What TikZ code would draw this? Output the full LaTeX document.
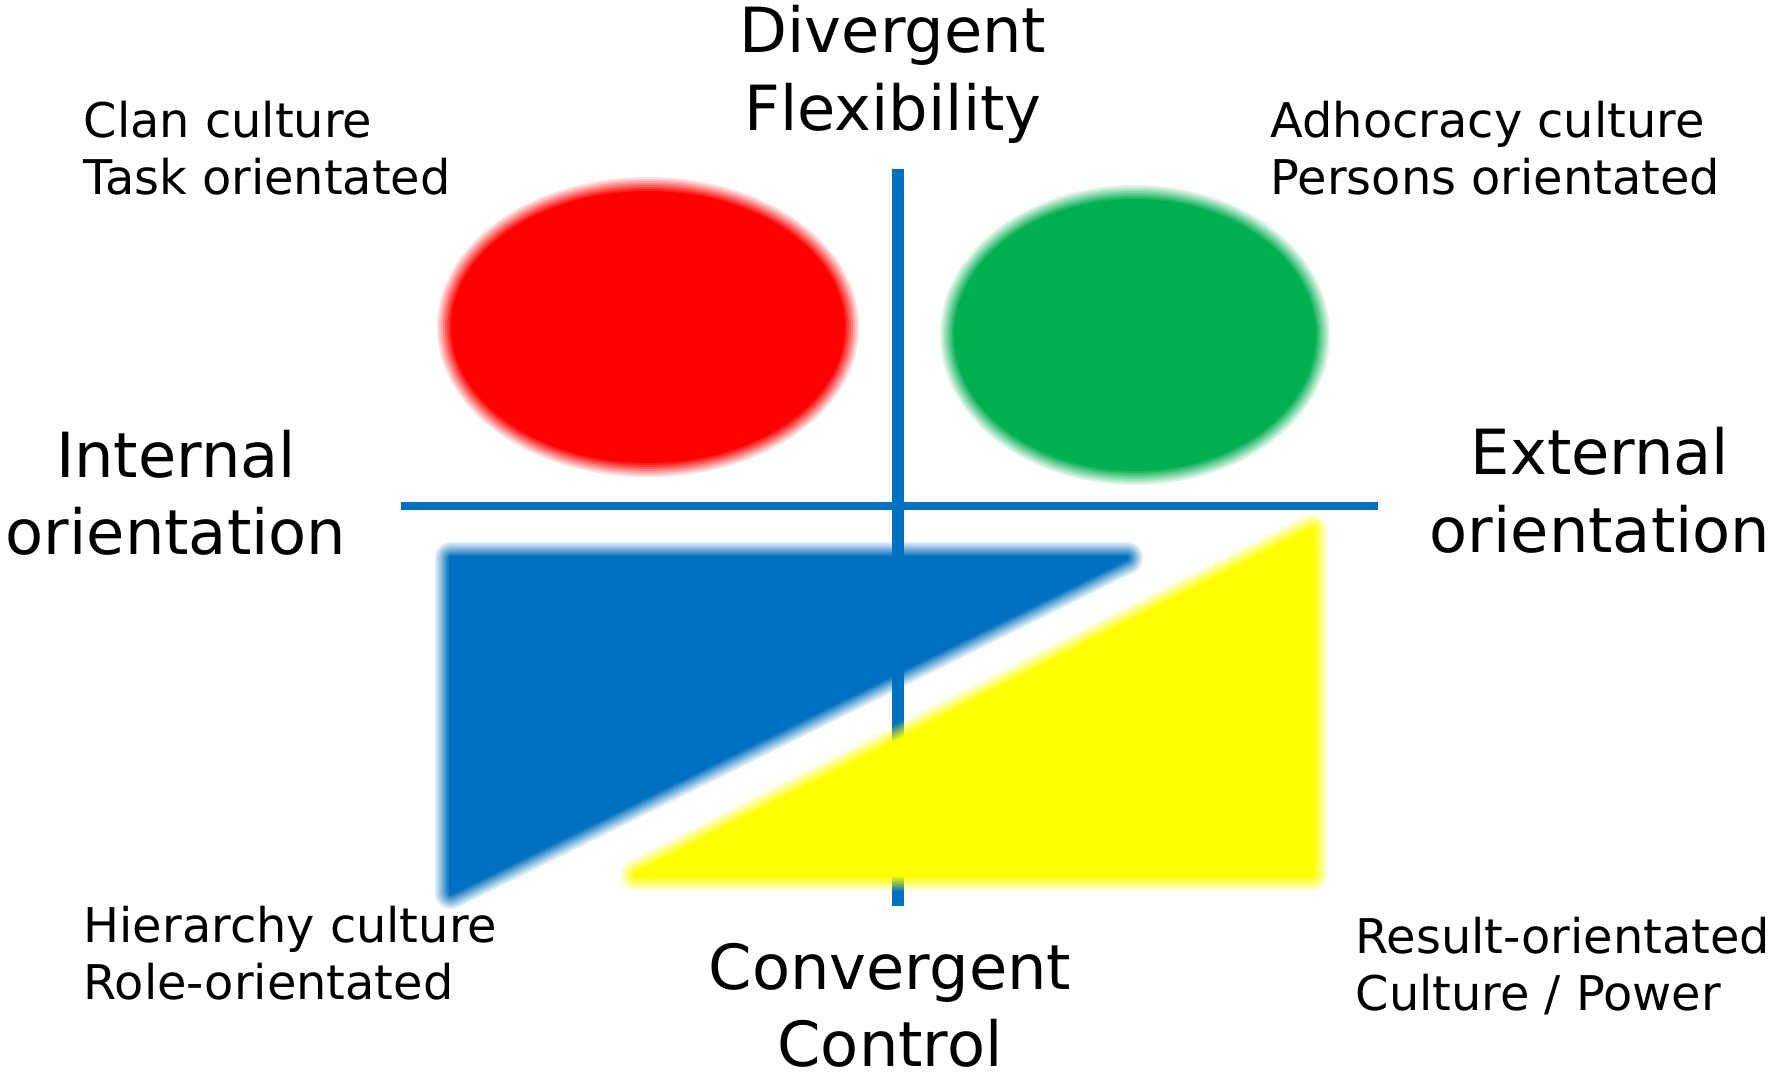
\documentclass[tikz,border=0pt]{standalone}
\usepackage{fontspec}
\setmainfont{DejaVu Sans}
\usetikzlibrary{positioning}
\definecolor{axisblue}{HTML}{0070C0}
\definecolor{clanred}{HTML}{FF0000}
\definecolor{adhocgreen}{HTML}{00B050}
\definecolor{hierblue}{HTML}{0070C0}
\definecolor{resultyellow}{HTML}{FFFF00}

% soft edged shape: core fill plus fading strokes
\newcommand{\softshape}[2]{%
  \fill[#1] #2;
  \foreach \j [evaluate=\j as \op using 1/\j, evaluate=\j as \lw using 0.04*\j] in {1,...,8}
    \draw[draw=#1, draw opacity=\op, line width=\lw cm, line join=round] #2;
}

\begin{document}
\begin{tikzpicture}[
  x=0.01cm, y=-0.01cm,
  axis/.style={axisblue},
  smalltext/.style={font=\fontsize{13.6}{16.4}\selectfont, align=left, inner sep=0pt, anchor=base west},
  bigtext/.style={font=\fontsize{17.7}{21.9}\selectfont, align=center, inner sep=0pt, anchor=base}
]
  \useasboundingbox[fill=white] (0,0) rectangle (1771,1073);

  % axes
  \coordinate (vtop) at (898,169);
  \coordinate (vbot) at (898,906);
  \coordinate (hleft) at (401,506);
  \coordinate (hright) at (1378,506);
  \draw[axis, line width=0.11cm] (vtop) -- (vbot);
  \draw[axis, line width=0.08cm] (hleft) -- (hright);

  % quadrant shapes
  \softshape{clanred}{(648,327) ellipse [x radius=195, y radius=134]}
  \softshape{adhocgreen}{(1135,335) ellipse [x radius=179, y radius=134]}
  \softshape{hierblue}{(451,558) -- (1127,558) -- (451,893) -- cycle}
  \softshape{resultyellow}{(1312,530) -- (1312,875) -- (636,875) -- cycle}

  % axis labels (anchored at the last baseline)
  \node[bigtext, font=\fontsize{17.7}{22.2}\selectfont] (flex) at (893,131) {Divergent\\Flexibility};
  \node[bigtext] (control) at (890,1067) {Convergent\\Control};
  \node[bigtext] (internal) at (176,555) {Internal\\orientation};
  \node[bigtext, font=\fontsize{17.7}{22.2}\selectfont] (external) at (1600,553) {External\\orientation};

  % quadrant labels
  \node[smalltext] (clan) at (83,195) {Clan culture\\Task orientated};
  \node[smalltext] (adhoc) at (1270,195) {Adhocracy culture\\Persons orientated};
  \node[smalltext] (hier) at (83,1000) {Hierarchy culture\\Role-orientated};
  \node[smalltext] (result) at (1355,1011) {Result-orientated\\Culture / Power};
\end{tikzpicture}
\end{document}
